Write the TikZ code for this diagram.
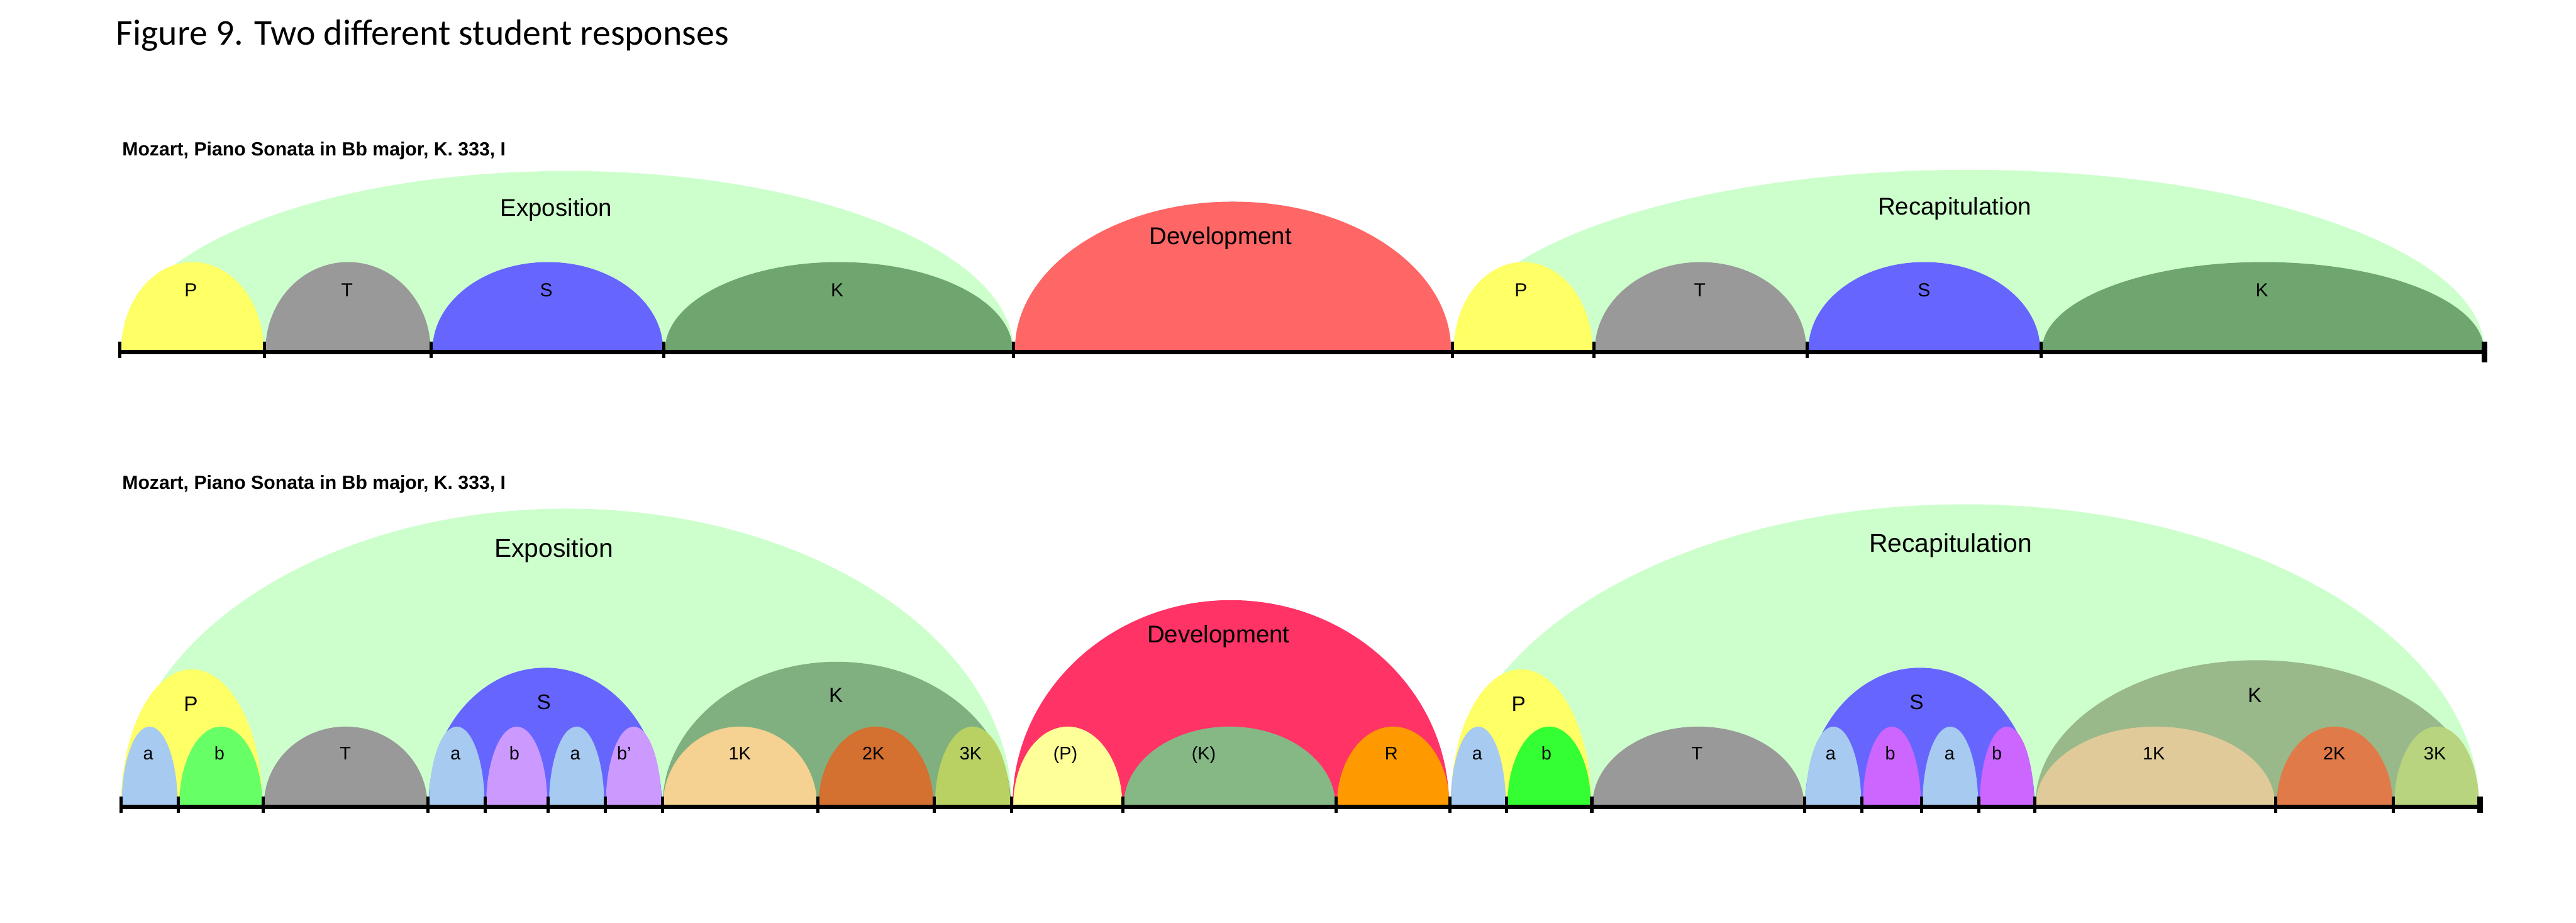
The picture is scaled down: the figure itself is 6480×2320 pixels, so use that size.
\documentclass[tikz,border=0pt]{standalone}
\usepackage{fontspec}
\setmainfont{Liberation Sans}
\newfontfamily\capfont{Carlito}
\usepackage{tikz}
\usetikzlibrary{positioning}
\definecolor{mint}{HTML}{CCFFCC}
\definecolor{pyel}{HTML}{FFFF66}
\definecolor{tgray}{HTML}{999999}
\definecolor{sblue}{HTML}{6666FF}
\definecolor{kgreen}{HTML}{6FA56F}
\definecolor{devred}{HTML}{FF6666}
\definecolor{devpink}{HTML}{FF3366}
\definecolor{ablue}{HTML}{A6CAF0}
\definecolor{bgreen}{HTML}{66FF66}
\definecolor{bgreenr}{HTML}{33FF33}
\definecolor{lilac}{HTML}{CC99FF}
\definecolor{lilacr}{HTML}{CC66FF}
\definecolor{kmoss}{HTML}{80B080}
\definecolor{kmossr}{HTML}{99B98A}
\definecolor{onek}{HTML}{F5D291}
\definecolor{onekr}{HTML}{E0CA9A}
\definecolor{twok}{HTML}{D47030}
\definecolor{twokr}{HTML}{E07A48}
\definecolor{threek}{HTML}{B9D063}
\definecolor{threekr}{HTML}{B9D47F}
\definecolor{lemon}{HTML}{FFFF99}
\definecolor{sage}{HTML}{86B886}
\definecolor{ochre}{HTML}{FF9900}
\newcommand{\hump}[4]{\fill[#1] (#2,0) arc[start angle=180,end angle=0,x radius={(#3-#2)/2},y radius=#4];}
\newcommand{\axisticks}[1]{\foreach \t in {#1} \draw[tick] (\t,21) -- (\t,-20);}

\begin{document}
\begin{tikzpicture}[x=0.01cm,y=0.01cm,
  axis/.style={line width=2.85pt},
  tick/.style={line width=2.3pt},
  endtick/.style={line width=4pt},
  piece/.style={anchor=base west,font=\bfseries\fontsize{13.6}{16}\selectfont},
  big/.style={anchor=base,font=\fontsize{17.3}{20}\selectfont},
  bigger/.style={anchor=base,font=\fontsize{18.4}{21}\selectfont},
  mid/.style={anchor=base,font=\fontsize{13.5}{16}\selectfont},
  midb/.style={anchor=base,font=\fontsize{15}{18}\selectfont},
  sub/.style={anchor=base,font=\fontsize{13}{15}\selectfont}]
  \useasboundingbox (0,0) rectangle (6480,2320);
  \node[anchor=base west,font=\capfont\fontsize{26}{31}\selectfont] (title) at (280,2207) {Figure 9. Two different student responses};

  \begin{scope}[shift={(0,1440)}]
    \hump{mint}{304}{2549}{450}
    \hump{devred}{2553}{3650}{373}
    \hump{mint}{3655}{6249}{453}
    \hump{pyel}{305}{663}{221}
    \hump{tgray}{668}{1083}{221}
    \hump{sblue}{1088}{1668}{221}
    \hump{kgreen}{1673}{2547}{221}
    \hump{pyel}{3657}{4006}{221}
    \hump{tgray}{4012}{4544}{221}
    \hump{sblue}{4549}{5132}{221}
    \hump{kgreen}{5137}{6248}{221}
    \draw[axis] (302,-5) -- (6250,-5);
    \axisticks{302,665,1085,1670,2549,3654,4009,4546,5134}
    \draw[endtick] (6250,21) -- (6250,-32);
    \node[piece] (piece1) at (295,489) {Mozart, Piano Sonata in Bb major, K. 333, I};
    \node[big] (expo1) at (1399,336) {Exposition};
    \node[big] (dev1) at (3070,265) {Development};
    \node[big] (recap1) at (4917,340) {Recapitulation};
    \foreach \x/\t [count=\i] in {480/P,873/T,1374/S,2106/K,3826/P,4276/T,4840/S,5690/K}
      \node[mid] (zone\i) at (\x,134) {\t};
  \end{scope}

  \begin{scope}[shift={(0,296)}]
    \hump{mint}{304}{2545}{745}
    \hump{devpink}{2547}{3645}{515}
    \hump{mint}{3650}{6236}{756}
    \hump{pyel}{305}{660}{341}
    \hump{sblue}{1078}{1665}{345}
    \hump{kmoss}{1667}{2543}{360}
    \hump{pyel}{3649}{4003}{341}
    \hump{sblue}{4541}{5118}{345}
    \hump{kmossr}{5120}{6236}{364}
    \foreach \l/\r/\c in {306/447/ablue,451/660/bgreen,664/1075/tgray,1079/1219/ablue,
      1223/1377/lilac,1381/1520/ablue,1524/1664/lilac,1668/2055/onek,2059/2348/twok,
      2352/2541/threek,2549/2823/lemon,2827/3359/sage,3363/3646/ochre,3649/3788/ablue,
      3792/4002/bgreenr,4006/4538/tgray,4542/4682/ablue,4686/4832/lilacr,4836/4976/ablue,
      4980/5117/lilacr,5121/5723/onekr,5727/6019/twokr,6023/6236/threekr}
      \hump{\c}{\l}{\r}{197}
    \draw[axis] (302,-5) -- (6238,-5);
    \axisticks{304,449,662,1077,1221,1379,1522,1666,2057,2350,2545,2825,3361,3647,3790,4004,4540,4684,4834,4978,5119,5725,6021}
    \draw[endtick] (6238,21) -- (6238,-20);
    \node[piece] (piece2) at (295,794) {Mozart, Piano Sonata in Bb major, K. 333, I};
    \node[bigger] (expo2) at (1393,623) {Exposition};
    \node[big] (dev2) at (3065,408) {Development};
    \node[bigger] (recap2) at (4907,636) {Recapitulation};
    \node[midb] (ptheme2) at (480,236) {P};
    \node[midb] (stheme2) at (1368,240) {S};
    \node[midb] (ktheme2) at (2103,257) {K};
    \node[midb] (ptheme3) at (3820,236) {P};
    \node[midb] (stheme3) at (4821,240) {S};
    \node[midb] (ktheme3) at (5672,257) {K};
    \foreach \x/\t [count=\i] in {373/a,552/b,869/T,1146/a,1294/b,1447/a,1570/{b'},1861/1K,2197/2K,2442/3K,
      2680/{(P)},3028/{(K)},3500/R,3716/a,3890/b,4269/T,4605/a,4755/b,4904/a,5023/b,5418/1K,5872/2K,6125/3K}
      \node[sub] (part\i) at (\x,113) {\t};
  \end{scope}
\end{tikzpicture}
\end{document}
